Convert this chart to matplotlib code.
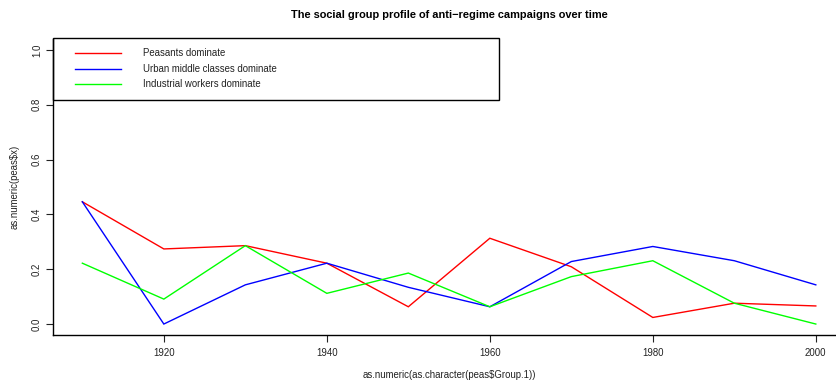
import matplotlib
matplotlib.use("Agg")
import matplotlib.pyplot as plt
from matplotlib.patches import Rectangle
from matplotlib.lines import Line2D

plt.rcParams['font.family'] = ['Liberation Sans', 'DejaVu Sans']

decades = [1910, 1920, 1930, 1940, 1950, 1960, 1970, 1980, 1990, 2000]
peasants = [0.446, 0.274, 0.286, 0.222, 0.063, 0.313, 0.209, 0.024, 0.076, 0.066]
urban_middle = [0.446, 0.0, 0.143, 0.222, 0.134, 0.063, 0.228, 0.283, 0.231, 0.143]
industrial = [0.222, 0.091, 0.286, 0.112, 0.186, 0.063, 0.173, 0.231, 0.076, 0.0]

series_labels = ["Peasants dominate", "Urban middle classes dominate",
                 "Industrial workers dominate"]
series_colors = ["#ff0000", "#0000ff", "#00ff00"]

x_ticks = [1920, 1940, 1960, 1980, 2000]
y_ticks = [0.0, 0.2, 0.4, 0.6, 0.8, 1.0]

W, H = 837, 383
fig = plt.figure(figsize=(W / 100, H / 100), dpi=100)
ax = fig.add_axes([53 / W, (H - 335) / H, (W - 53) / W, (335 - 39) / H])

for vals, col in zip([peasants, urban_middle, industrial], series_colors):
    ax.plot(decades, vals, color=col, lw=1.0, solid_joinstyle='miter')

ax.set_xlim(1906.4, 2002.6)
ax.set_ylim(-0.04, 1.04)
ax.set_xticks(x_ticks)
ax.set_xticklabels([str(t) for t in x_ticks])
ax.set_yticks(y_ticks)
ax.set_yticklabels([f"{t:.1f}" for t in y_ticks], rotation=90, va='center')
ax.tick_params(direction='out', length=5, width=0.8, labelsize=6.9,
               colors='#222222', pad=4)
ax.tick_params(axis='y', pad=3)
for s in ['top', 'right']:
    ax.spines[s].set_visible(False)
for s in ['left', 'bottom']:
    ax.spines[s].set_linewidth(1.0)
    ax.spines[s].set_color('black')

# axis titles placed in figure coordinates
fig.text(449 / W, 1 - 375 / H, "as.numeric(as.character(peas$Group.1))",
         ha='center', va='center', fontsize=6.9, color='#222222')
fig.text(15 / W, 1 - 187 / H, "as.numeric(peas$x)", rotation=90,
         ha='center', va='center', fontsize=6.9, color='#222222')

fig.text(449 / W, 1 - 15 / H,
         "The social group profile of anti\u2212regime campaigns over time",
         ha='center', va='center', fontsize=7.95, fontweight='bold')

# legend box in the top-left corner of the plotting region
fig.patches.append(Rectangle((53 / W, 1 - 100 / H), (499 - 53) / W, (100 - 38) / H,
                             transform=fig.transFigure, fill=False,
                             edgecolor='black', lw=1.0))
rows_y = [53, 69, 84]
for lab, col, ry in zip(series_labels, series_colors, rows_y):
    fig.lines.append(Line2D([75 / W, 121 / W], [1 - ry / H, 1 - ry / H],
                            transform=fig.transFigure, color=col, lw=1.0))
    fig.text(143 / W, 1 - ry / H, lab, ha='left', va='center',
             fontsize=6.9, color='#222222')

fig.savefig("out.png", dpi=100)
